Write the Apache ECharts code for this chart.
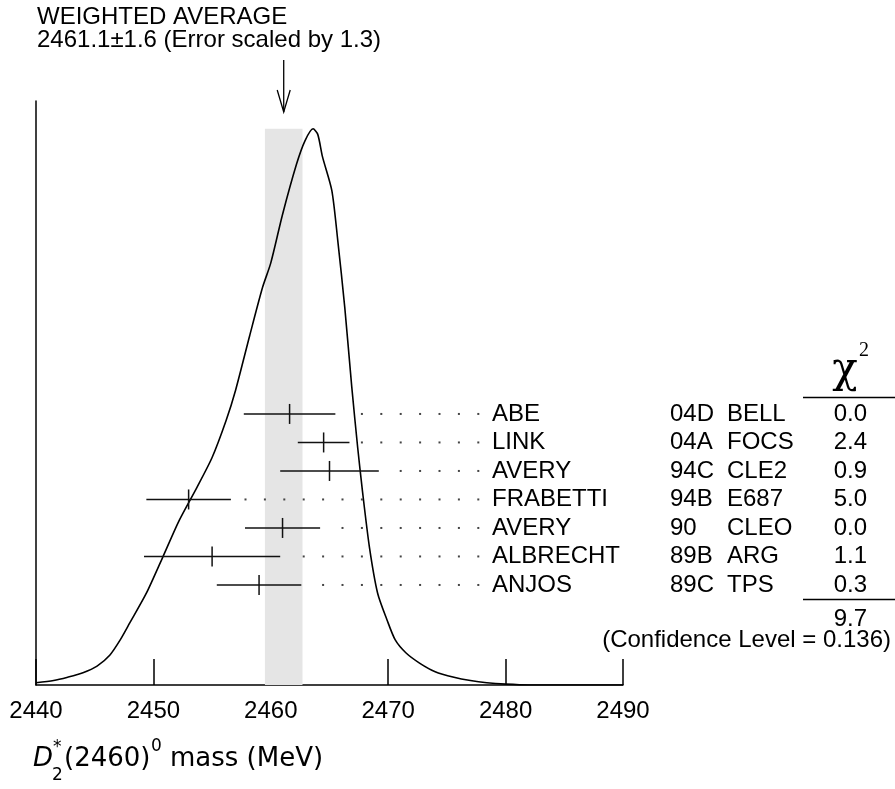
<!DOCTYPE html>
<html><head><meta charset="utf-8">
<script src="https://cdn.jsdelivr.net/npm/echarts@6/dist/echarts.min.js"></script>
<style>html,body{margin:0;padding:0;background:#fff}#c{width:895px;height:789px}</style>
</head><body><div id="c"></div>
<script>
// ---- data ----
const names  = ['ABE','LINK','AVERY','FRABETTI','AVERY','ALBRECHT','ANJOS'];
const refs   = ['04D','04A','94C','94B','90','89B','89C'];
const expts  = ['BELL','FOCS','CLE2','E687','CLEO','ARG','TPS'];
const chi2   = ['0.0','2.4','0.9','5.0','0.0','1.1','0.3'];
const masses = [2461.6, 2464.5, 2465.0, 2453.0, 2461.0, 2455.0, 2459.0];
const errors = [3.9, 2.2, 4.2, 3.6, 3.2, 5.8, 3.6];
const avgValue = 2461.1, avgError = 1.6, errScale = '1.3';
const chi2Total = '9.7', confLevel = '0.136';
const curveMass = [2440.0,2441.5,2442.7,2444.0,2445.2,2446.3,2447.2,2448.0,2449.4,2450.8,2452.2,2453.7,2455.0,2456.2,2457.0,2458.2,2459.3,2460.0,2461.0,2462.2,2462.9,2463.6,2464.0,2464.4,2465.2,2465.7,2466.3,2466.9,2467.4,2467.8,2468.4,2469.1,2469.9,2470.6,2471.5,2472.7,2474.0,2475.6,2477.0,2478.4,2480.0,2482.0,2490.0];
const curveHeight = [0.004,0.008,0.014,0.022,0.034,0.054,0.082,0.112,0.165,0.23,0.296,0.355,0.409,0.476,0.53,0.628,0.715,0.759,0.846,0.937,0.978,1.0,0.99,0.95,0.889,0.80,0.679,0.535,0.427,0.35,0.248,0.165,0.117,0.081,0.058,0.039,0.024,0.014,0.008,0.004,0.0015,0.0,0.0];
const xMin = 2440, xMax = 2490, xStep = 10;

// ---- layout constants ----
const FONT = '24px "Liberation Sans", Arial, Helvetica, sans-serif';
const COL_NAME = 492, COL_REF = 670, COL_EXP = 727, COL_CHI = 867;
const DOT_END = 478.3, DOT_STEP = 19.4;

const chart = echarts.init(document.getElementById('c'), null, {renderer:'canvas'});
const bandTop = Math.max.apply(null, curveHeight);

const option = {
  animation: false,
  backgroundColor: '#fff',
  grid: {left: 36, right: 272, top: 101, bottom: 104},
  xAxis: {
    type: 'value', min: xMin, max: xMax, interval: xStep,
    axisLine: {lineStyle: {color: '#000', width: 1.5}},
    axisTick: {inside: true, length: 26, lineStyle: {color: '#000', width: 1.5}},
    splitLine: {show: false},
    axisLabel: {color: '#000', fontSize: 24, fontFamily: '"Liberation Sans", Arial, sans-serif', margin: 14,
                formatter: v => String(v)}
  },
  yAxis: [
    {type: 'value', min: 0, max: 1.05,
     axisLine: {show: true, lineStyle: {color: '#000', width: 1.5}},
     axisTick: {show: false}, axisLabel: {show: false}, splitLine: {show: false}},
    {type: 'value', inverse: true, min: -10.98, max: 9.51, show: false}
  ],
  series: [
    { // weighted average band
      type: 'custom', z: 1, clip: false, yAxisIndex: 0,
      data: [[avgValue - avgError, avgValue + avgError, bandTop]],
      encode: {x: [0, 1], y: 2},
      renderItem: function (params, api) {
        const p1 = api.coord([api.value(0), api.value(2)]);
        const p2 = api.coord([api.value(1), 0]);
        return {type: 'rect', shape: {x: p1[0], y: p1[1], width: p2[0] - p1[0], height: p2[1] - p1[1]},
                style: {fill: '#e5e5e5'}};
      }
    },
    { // ideogram curve
      type: 'line', z: 3, yAxisIndex: 0, showSymbol: false, smooth: 0.25,
      data: curveMass.map((m, i) => [m, curveHeight[i]]),
      lineStyle: {color: '#000', width: 1.6}
    },
    { // measurements + table
      type: 'custom', z: 4, clip: false, yAxisIndex: 1,
      data: masses.map((m, i) => [m, i, errors[i]]),
      encode: {x: 0, y: 1},
      renderItem: function (params, api) {
        const m = api.value(0), r = api.value(1), e = api.value(2);
        const c = api.coord([m, r]), lo = api.coord([m - e, r]), hi = api.coord([m + e, r]);
        const idx = params.dataIndex;
        const ch = [
          {type: 'line', shape: {x1: lo[0], y1: c[1], x2: hi[0], y2: c[1]}, style: {stroke: '#111', lineWidth: 1.5}},
          {type: 'line', shape: {x1: c[0], y1: c[1] - 10, x2: c[0], y2: c[1] + 10}, style: {stroke: '#111', lineWidth: 1.5}}
        ];
        for (let x = DOT_END; x > hi[0] + 12; x -= DOT_STEP) {
          ch.push({type: 'rect', shape: {x: x - 1, y: c[1] - 1, width: 2, height: 2}, style: {fill: '#444'}});
        }
        const t = (x, s, a) => ({type: 'text', x: x, y: c[1], style: {text: s, font: FONT, fill: '#000', align: a || 'left', verticalAlign: 'middle'}});
        ch.push(t(COL_NAME, names[idx]), t(COL_REF, refs[idx]), t(COL_EXP, expts[idx]), t(COL_CHI, chi2[idx], 'right'));
        return {type: 'group', children: ch};
      }
    },
    { // arrow to weighted average
      type: 'custom', z: 4, clip: false, yAxisIndex: 0,
      data: [[avgValue, bandTop]],
      encode: {x: 0, y: 1},
      renderItem: function (params, api) {
        const x = api.coord([api.value(0), 0])[0];
        const top = params.coordSys.y;
        return {type: 'group', children: [
          {type: 'line', shape: {x1: x, y1: top - 41, x2: x, y2: top + 11}, style: {stroke: '#000', lineWidth: 1.3}},
          {type: 'polyline', shape: {points: [[x - 6.5, top - 11], [x, top + 11], [x + 6.5, top - 11]]}, style: {stroke: '#000', lineWidth: 1.3, fill: null}}
        ]};
      }
    }
  ],
  graphic: [
    {type: 'text', x: 37, y: 17, style: {text: 'WEIGHTED AVERAGE', font: FONT, fill: '#000', verticalAlign: 'middle'}},
    {type: 'text', x: 37, y: 40, style: {text: avgValue.toFixed(1) + '\u00b1' + avgError.toFixed(1) + ' (Error scaled by ' + errScale + ')', font: FONT, fill: '#000', verticalAlign: 'middle'}},
    // chi^2 header
    {type: 'text', x: 845, y: 371, style: {text: '\u03c7', font: '42px "DejaVu Serif", "Liberation Serif", serif', fill: '#000', align: 'center', verticalAlign: 'middle'}},
    {type: 'text', x: 859, y: 351, style: {text: '2', font: '20px "Liberation Serif", "DejaVu Serif", serif', fill: '#000', align: 'left', verticalAlign: 'middle'}},
    {type: 'line', shape: {x1: 803, y1: 397.5, x2: 895, y2: 397.5}, style: {stroke: '#000', lineWidth: 1.3}},
    {type: 'line', shape: {x1: 803, y1: 599.5, x2: 895, y2: 599.5}, style: {stroke: '#000', lineWidth: 1.3}},
    {type: 'text', x: COL_CHI, y: 619, style: {text: chi2Total, font: FONT, fill: '#000', align: 'right', verticalAlign: 'middle'}},
    {type: 'text', x: 891, y: 640, style: {text: '(Confidence Level = ' + confLevel + ')', font: FONT, fill: '#000', align: 'right', verticalAlign: 'middle'}},
    // x-axis title
    {type: 'text', x: 33, y: 759, style: {text: 'D', font: 'italic 26px "DejaVu Sans", sans-serif', fill: '#000', verticalAlign: 'middle'}},
    {type: 'text', x: 53, y: 748, style: {text: '*', font: '17px "DejaVu Sans", sans-serif', fill: '#000', verticalAlign: 'middle'}},
    {type: 'text', x: 52, y: 776, style: {text: '2', font: '17px "DejaVu Sans", sans-serif', fill: '#000', verticalAlign: 'middle'}},
    {type: 'text', x: 64, y: 759, style: {text: '(2460)', font: '26px "DejaVu Sans", sans-serif', fill: '#000', verticalAlign: 'middle'}},
    {type: 'text', x: 151, y: 747, style: {text: '0', font: '17px "DejaVu Sans", sans-serif', fill: '#000', verticalAlign: 'middle'}},
    {type: 'text', x: 170, y: 759, style: {text: 'mass (MeV)', font: '26px "DejaVu Sans", sans-serif', fill: '#000', verticalAlign: 'middle'}}
  ]
};
chart.setOption(option);
</script>
</body></html>
